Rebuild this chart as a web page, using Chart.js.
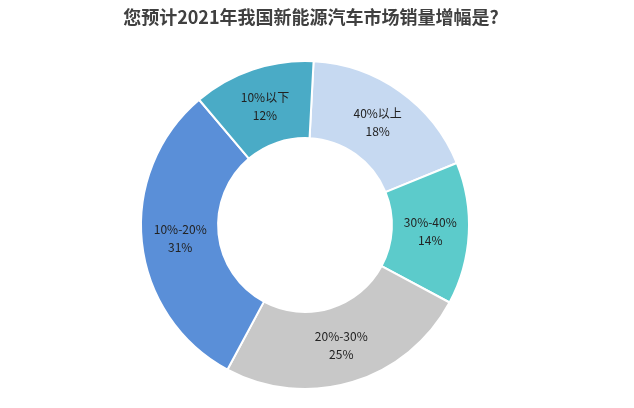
<!DOCTYPE html>
<html><head><meta charset="utf-8">
<script src="https://cdn.jsdelivr.net/npm/chart.js@4"></script>
<style>html,body{margin:0;padding:0;background:#fff}#w{width:634px;height:408px}</style>
</head><body><div id="w"><canvas id="c"></canvas></div>
<script>
const categories = ["40%以上","30%-40%","20%-30%","10%-20%","10%以下"];
const values = [18,14,25,31,12];
const colors = ["#c6d9f1","#5ccbcb","#c8c8c8","#5a8fd8","#4aabc6"];
const titleText = "您预计2021年我国新能源汽车市场销量增幅是?";
const labelPlugin = {
  id:'lbl',
  afterDraw(chart){
    const ctx = chart.ctx;
    ctx.save();
    ctx.font = 'bold 18px "Noto Sans CJK SC"';
    ctx.fillStyle = '#404040';
    ctx.textAlign = 'center';
    ctx.textBaseline = 'middle';
    ctx.fillText(titleText, 311, 17);
    ctx.font = '12px "Noto Sans CJK SC"';
    ctx.fillStyle = '#222';
    chart.getDatasetMeta(0).data.forEach((arc,i)=>{
      const p = arc.tooltipPosition();
      ctx.fillText(categories[i], p.x, p.y-9);
      ctx.fillText(values[i]+'%', p.x, p.y+9);
    });
    ctx.restore();
  }
};
new Chart(document.getElementById('c'),{
  type:'doughnut',
  data:{labels:categories,datasets:[{data:values,backgroundColor:colors,borderColor:'#fff',borderWidth:2}]},
  options:{
    responsive:true,maintainAspectRatio:false,animation:false,
    cutout:'53%', rotation:3,
    layout:{padding:{top:60,bottom:18,left:0,right:24}},
    plugins:{legend:{display:false},tooltip:{enabled:false}}
  },
  plugins:[labelPlugin]
});
</script></body></html>
